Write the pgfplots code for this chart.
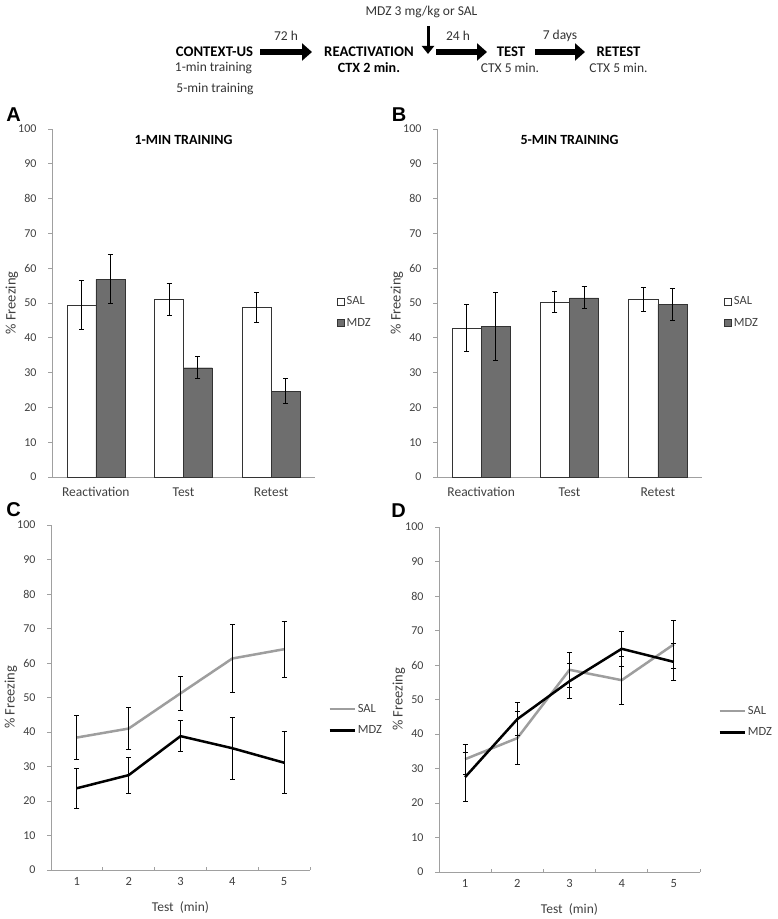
\documentclass[border=0pt]{standalone}
\usepackage{fontspec}
\setmainfont{Carlito}
\newfontfamily\arialfont{Liberation Sans}
\usepackage{pgfplots}
\pgfplotsset{compat=1.18}
\usetikzlibrary{arrows.meta}
\definecolor{lblgray}{HTML}{404040}
\definecolor{axgray}{HTML}{A0A0A0}
\definecolor{salline}{HTML}{9E9E9E}
\definecolor{mdzfill}{HTML}{6E6E6E}
\definecolor{txtgray}{HTML}{333333}
\newcommand{\tf}{\fontsize{12}{14}\selectfont}
\newcommand{\cf}{\fontsize{13.5}{16}\selectfont}
\newcommand{\lf}{\fontsize{14.5}{17}\selectfont}
\newcommand{\hf}{\fontsize{13.5}{16}\selectfont}
\newcommand{\hbf}{\fontsize{14.7}{17}\selectfont\bfseries}
\pgfplotsset{
  panel/.style={
    scale only axis, anchor=south west,
    axis x line*=bottom, axis y line*=left,
    axis line style={draw=axgray, line width=0.8pt},
    ymin=0, ymax=100, ytick={0,10,...,100},
    ytick align=outside,
    major tick length=4pt,
    tick style={draw=axgray, line width=0.8pt},
    tick label style={font=\tf, text=lblgray},
    yticklabel style={anchor=east, xshift=-8pt},
    /pgf/number format/assume math mode=true,
    every axis y label/.style={at={(axis description cs:0,0.5)}, xshift=-40pt, rotate=90, anchor=center, font=\lf, text=lblgray},
    ylabel={\% Freezing},
    clip=false,
    error bars/error bar style={line width=1pt, black},
    error bars/error mark options={rotate=90, mark size=2.5pt, line width=1pt, black},
  },
  barpanel/.style={panel, ybar, bar width=0.33, xmin=0.5, xmax=3.5,
    xtick={1,2,3}, xticklabels={Reactivation,Test,Retest},
    major x tick style={draw=none}, xticklabel style={yshift=-3pt, font=\cf},
    legend image code/.code={\draw[#1] (0pt,-3.5pt) rectangle (7pt,3.5pt);},
    legend style={draw=none, fill=none, at={(1.084,0.474)}, anchor=west, inner sep=0pt,
      font=\fontsize{12.5}{14}\selectfont, text=lblgray, row sep=8pt},
    legend cell align=left,
  },
  linepanel/.style={panel, xmin=0.5, xmax=5.5, xtick={1,...,5},
    minor xtick={1.5,2.5,3.5,4.5,5.5}, xtick align=inside,
    major x tick style={draw=none}, minor tick length=3pt,
    xticklabel style={yshift=-4pt, font=\fontsize{12.5}{14}\selectfont},
    xlabel={Test~~(min)},
    every axis x label/.style={at={(axis description cs:0.5,0)}, yshift=-37pt, anchor=center, font=\cf, text=lblgray},
    legend image code/.code={\draw[#1] (0pt,0pt) -- (25pt,0pt);},
    legend style={draw=none, fill=none, at={(1.07,0.435)}, anchor=west, inner sep=0pt,
      font=\fontsize{12.5}{14}\selectfont, text=lblgray, row sep=8pt},
    legend cell align=left,
  },
}
\begin{document}
\begin{tikzpicture}
\useasboundingbox (0,0) rectangle (778pt,919pt);
% ---------- header scheme ----------
\begin{scope}[font=\hf]
\node[text=txtgray] at (421.5pt,907pt) {MDZ 3 mg/kg or SAL};
\draw[black, line width=3pt, -{Triangle[length=8pt,width=12pt]}] (428pt,893pt) -- (428pt,865pt);
\node[font=\hbf] at (214.5pt,867pt) {CONTEXT-US};
\draw[black, line width=6pt, -{Triangle[length=10pt,width=17pt]}] (260pt,867pt) -- (312pt,867pt);
\node[text=txtgray] at (286pt,883pt) {72 h};
\node[font=\hbf] at (369pt,867pt) {REACTIVATION};
\draw[black, line width=6pt, -{Triangle[length=10pt,width=17pt]}] (436pt,867pt) -- (487pt,867pt);
\node[text=txtgray] at (458pt,883pt) {24 h};
\node[font=\hbf] at (511pt,867pt) {TEST};
\draw[black, line width=6pt, -{Triangle[length=10pt,width=17pt]}] (535pt,867pt) -- (585pt,867pt);
\node[text=txtgray] at (560pt,883pt) {7 days};
\node[font=\hbf] at (618.5pt,867pt) {RETEST};
\node[text=txtgray] at (213.5pt,851pt) {1-min training};
\node[text=txtgray] at (215pt,830pt) {5-min training};
\node[font=\fontsize{14.1}{17}\selectfont\bfseries] at (369pt,851pt) {CTX 2 min.};
\node[text=txtgray] at (510pt,851pt) {CTX 5 min.};
\node[text=txtgray] at (618.5pt,851pt) {CTX 5 min.};
\end{scope}
% ---------- panel letters ----------
\node[font=\arialfont\bfseries\fontsize{20}{22}\selectfont] at (13.5pt,804.5pt) {A};
\node[font=\arialfont\bfseries\fontsize{20}{22}\selectfont] at (399pt,804.5pt) {B};
\node[font=\arialfont\bfseries\fontsize{20}{22}\selectfont] at (13.5pt,409pt) {C};
\node[font=\arialfont\bfseries\fontsize{20}{22}\selectfont] at (398.5pt,408pt) {D};
% ---------- A ----------
\begin{axis}[barpanel, at={(52pt,442pt)}, width=263pt, height=348pt]
\addplot[fill=white, draw=txtgray, bar shift=-0.165,
  error bars/.cd, y dir=both, y explicit]
  coordinates {(1,49.5) +- (0,7.0) (2,51.1) +- (0,4.6) (3,48.7) +- (0,4.2)};
\addplot[fill=mdzfill, draw=txtgray, bar shift=0.165,
  error bars/.cd, y dir=both, y explicit]
  coordinates {(1,56.8) +- (0,7.0) (2,31.4) +- (0,3.1) (3,24.7) +- (0,3.6)};
\legend{SAL,MDZ}
\node[font=\fontsize{14}{17}\selectfont\bfseries] at (rel axis cs:0.5,0.968) {1-MIN TRAINING};
\end{axis}
% ---------- B ----------
\begin{axis}[barpanel, at={(437pt,442pt)}, width=265pt, height=348pt]
\addplot[fill=white, draw=txtgray, bar shift=-0.165,
  error bars/.cd, y dir=both, y explicit]
  coordinates {(1,42.9) +- (0,6.8) (2,50.3) +- (0,3.1) (3,51.0) +- (0,3.4)};
\addplot[fill=mdzfill, draw=txtgray, bar shift=0.165,
  error bars/.cd, y dir=both, y explicit]
  coordinates {(1,43.3) +- (0,9.7) (2,51.5) +- (0,3.2) (3,49.6) +- (0,4.5)};
\legend{SAL,MDZ}
\node[font=\fontsize{14}{17}\selectfont\bfseries] at (rel axis cs:0.5,0.968) {5-MIN TRAINING};
\end{axis}
% ---------- C ----------
\begin{axis}[linepanel, at={(51pt,49pt)}, width=259pt, height=345pt]
\addplot[salline, line width=2.5pt, mark=none,
  error bars/.cd, y dir=both, y explicit]
  coordinates {(1,38.4) +- (0,6.4) (2,41.0) +- (0,6.2) (3,51.2) +- (0,5.0) (4,61.3) +- (0,9.8) (5,64.0) +- (0,8.1)};
\addplot[black, line width=2.5pt, mark=none,
  error bars/.cd, y dir=both, y explicit]
  coordinates {(1,23.7) +- (0,5.8) (2,27.5) +- (0,5.2) (3,38.8) +- (0,4.5) (4,35.3) +- (0,9.0) (5,31.1) +- (0,9.0)};
\legend{SAL,MDZ}
\end{axis}
% ---------- D ----------
\begin{axis}[linepanel, at={(439pt,47pt)}, width=261pt, height=345pt]
\addplot[salline, line width=2.5pt, mark=none,
  error bars/.cd, y dir=both, y explicit]
  coordinates {(1,32.7) +- (0,4.3) (2,38.8) +- (0,7.7) (3,58.6) +- (0,5.0) (4,55.6) +- (0,7.0) (5,66.0) +- (0,7.0)};
\addplot[black, line width=2.5pt, mark=none,
  error bars/.cd, y dir=both, y explicit]
  coordinates {(1,27.5) +- (0,7.0) (2,44.3) +- (0,4.8) (3,55.3) +- (0,5.1) (4,64.7) +- (0,5.0) (5,60.9) +- (0,5.3)};
\legend{SAL,MDZ}
\end{axis}
\end{tikzpicture}
\end{document}
